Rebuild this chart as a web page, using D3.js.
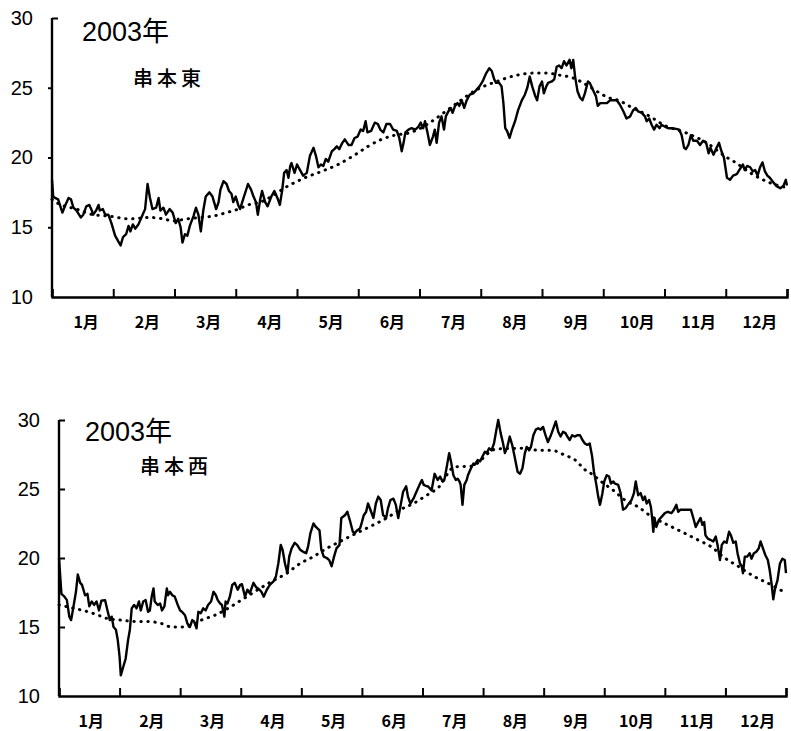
<!DOCTYPE html>
<html><head><meta charset="utf-8">
<script src="https://cdn.jsdelivr.net/npm/d3@7"></script>
<style>
html,body{margin:0;padding:0;background:#fff;}
svg{display:block;}
</style></head>
<body>
<script>
// ---------- data ----------
const monthLabels = ["1月","2月","3月","4月","5月","6月","7月","8月","9月","10月","11月","12月"];
const yTickValues = [10,15,20,25,30];
const yearTitle = "2003年";
const stationNames = ["串本東","串本西"];

// x = position in months (0 = 1 Jan, 12 = 31 Dec); daily water temperature (°C)
const eastPos = [0.00,0.02,0.05,0.10,0.17,0.21,0.27,0.31,0.35,0.40,0.47,0.51,0.56,0.61,0.65,0.67,0.72,0.76,0.78,0.83,0.87,0.92,0.97,1.03,1.08,1.12,1.16,1.21,1.25,1.28,1.32,1.36,1.41,1.46,1.52,1.56,1.60,1.64,1.70,1.74,1.77,1.82,1.86,1.92,1.97,2.02,2.06,2.10,2.13,2.17,2.21,2.25,2.31,2.35,2.39,2.43,2.47,2.51,2.57,2.62,2.68,2.72,2.75,2.80,2.85,2.89,2.93,2.96,3.00,3.04,3.07,3.12,3.20,3.25,3.29,3.33,3.36,3.40,3.43,3.48,3.52,3.58,3.63,3.68,3.72,3.76,3.79,3.83,3.86,3.89,3.91,3.96,4.00,4.05,4.10,4.16,4.21,4.27,4.31,4.35,4.39,4.43,4.47,4.51,4.57,4.61,4.65,4.69,4.74,4.78,4.84,4.89,4.94,4.99,5.04,5.08,5.12,5.15,5.21,5.27,5.32,5.36,5.41,5.46,5.52,5.57,5.63,5.67,5.71,5.74,5.77,5.82,5.87,5.93,5.98,6.02,6.06,6.09,6.13,6.17,6.22,6.25,6.28,6.32,6.36,6.40,6.43,6.47,6.51,6.54,6.58,6.62,6.65,6.69,6.73,6.77,6.82,6.88,6.93,6.98,7.03,7.09,7.14,7.18,7.22,7.25,7.30,7.34,7.37,7.40,7.43,7.47,7.51,7.56,7.61,7.67,7.72,7.76,7.80,7.84,7.89,7.92,7.96,8.00,8.03,8.07,8.10,8.16,8.20,8.24,8.28,8.32,8.36,8.40,8.45,8.48,8.51,8.54,8.58,8.62,8.66,8.70,8.75,8.78,8.83,8.88,8.91,8.95,8.99,9.06,9.11,9.16,9.22,9.27,9.33,9.38,9.44,9.49,9.53,9.57,9.63,9.68,9.71,9.75,9.79,9.83,9.87,9.92,9.95,10.01,10.06,10.12,10.19,10.24,10.28,10.32,10.35,10.39,10.43,10.47,10.53,10.58,10.63,10.68,10.72,10.75,10.80,10.85,10.89,10.93,10.97,11.02,11.07,11.12,11.18,11.22,11.28,11.31,11.35,11.40,11.44,11.48,11.52,11.56,11.60,11.64,11.68,11.72,11.78,11.83,11.89,11.94,11.98,12.00];
const eastTemp = [18.4,17.2,17.1,17.0,16.05,16.5,17.1,17.0,16.4,16.2,15.7,15.9,16.5,16.6,16.2,15.9,16.2,16.6,16.2,16.3,15.9,15.9,15.3,14.4,14.0,13.7,14.3,14.5,15.1,14.7,15.2,14.9,15.2,15.7,16.3,18.1,17.1,16.3,16.4,17.1,16.2,16.4,15.9,16.3,16.05,15.3,15.6,15.0,13.9,14.5,14.4,15.1,15.8,16.4,15.9,14.7,16.2,17.2,17.5,17.2,16.3,16.8,17.7,18.3,18.1,17.6,17.4,16.8,17.2,16.6,16.3,17.0,18.1,17.7,17.2,16.8,15.9,17.0,17.6,16.8,16.5,17.2,17.6,17.1,16.6,17.7,18.9,19.1,18.55,19.4,19.6,18.9,19.5,19.1,18.7,18.9,20.1,20.7,20.1,19.3,19.5,19.4,19.9,19.7,20.45,20.6,20.8,20.6,21.05,21.3,20.9,20.9,21.4,21.5,22.0,21.9,22.6,21.8,21.9,22.5,22.4,22.0,21.8,22.4,22.4,22.0,21.9,21.4,20.45,21.05,21.8,22.0,22.1,22.0,22.2,22.5,22.1,22.6,21.8,20.9,21.5,22.0,21.05,22.5,22.95,22.0,22.95,23.3,23.55,23.2,23.7,23.9,23.7,24.1,23.55,24.1,24.5,24.6,24.85,25.1,25.45,26.05,26.4,26.2,25.6,25.35,25.35,25.1,23.9,22.1,21.9,21.4,22.0,22.6,23.4,24.1,24.5,25.0,25.8,25.1,24.4,24.1,25.1,25.45,24.6,25.1,25.35,25.45,25.6,26.5,26.6,26.4,26.9,26.6,27.0,26.4,27.0,25.8,24.75,24.3,24.1,24.6,25.45,25.35,24.85,24.4,23.7,23.9,23.9,23.9,24.1,24.1,24.1,23.8,23.3,22.8,22.95,23.4,23.55,23.3,23.2,22.95,22.6,22.8,22.35,22.0,22.35,22.1,22.35,22.2,22.1,22.1,22.05,22.0,21.6,20.7,20.6,20.9,21.6,21.2,21.2,20.9,21.2,21.05,20.3,20.7,20.2,20.7,21.05,20.45,20.0,18.55,18.4,18.7,18.8,19.1,19.5,19.1,19.4,19.3,19.0,19.1,18.7,19.3,19.65,19.0,18.7,18.55,18.2,17.95,17.8,17.95,18.4,18.0];

// normal-year (climatological) curve, dotted
const eastNormPos  = [0.00,0.10,0.40,0.67,0.92,1.27,1.60,1.82,1.98,2.20,2.42,2.63,2.85,3.04,3.20,3.40,3.87,4.13,4.40,4.67,4.95,5.16,5.38,5.60,5.82,6.04,6.17,6.55,6.93,7.26,7.59,7.86,8.08,8.29,8.51,8.73,8.95,9.08,9.25,9.44,9.76,9.98,10.36,10.69,11.02,11.12,11.40,11.61,11.89,12.00];
const eastNormTemp = [17.0,16.7,16.3,15.9,15.8,15.6,15.7,15.6,15.45,15.6,15.7,15.8,16.05,16.3,16.6,16.8,18.0,18.55,19.0,19.5,20.2,20.8,21.3,21.6,21.75,22.15,22.5,23.7,24.85,25.45,25.9,26.05,26.05,25.9,25.7,25.2,24.6,24.3,24.1,23.65,22.95,22.35,21.75,21.05,20.0,19.75,18.9,18.4,17.95,17.85];

const westPos = [0.00,0.04,0.09,0.13,0.17,0.20,0.24,0.28,0.31,0.35,0.38,0.43,0.47,0.50,0.54,0.58,0.62,0.66,0.70,0.76,0.80,0.84,0.87,0.90,0.94,0.97,1.00,1.02,1.06,1.10,1.14,1.17,1.20,1.24,1.28,1.32,1.35,1.39,1.43,1.47,1.50,1.53,1.56,1.58,1.63,1.67,1.70,1.74,1.78,1.80,1.83,1.87,1.91,1.96,2.00,2.03,2.08,2.12,2.16,2.20,2.23,2.27,2.30,2.34,2.38,2.42,2.46,2.51,2.55,2.59,2.62,2.66,2.69,2.73,2.75,2.78,2.82,2.86,2.90,2.95,2.99,3.02,3.07,3.11,3.15,3.21,3.25,3.31,3.34,3.38,3.43,3.48,3.54,3.58,3.62,3.66,3.69,3.73,3.77,3.80,3.84,3.89,3.93,3.98,4.03,4.08,4.11,4.15,4.20,4.24,4.30,4.33,4.37,4.42,4.46,4.50,4.54,4.58,4.63,4.66,4.72,4.76,4.80,4.85,4.88,4.92,4.97,5.00,5.03,5.07,5.10,5.14,5.19,5.23,5.27,5.31,5.35,5.40,5.43,5.47,5.52,5.56,5.60,5.64,5.68,5.73,5.76,5.80,5.85,5.90,5.95,5.99,6.02,6.07,6.09,6.15,6.20,6.25,6.29,6.33,6.36,6.40,6.44,6.47,6.51,6.55,6.58,6.61,6.63,6.66,6.69,6.73,6.75,6.80,6.84,6.86,6.91,6.95,6.99,7.03,7.06,7.10,7.14,7.18,7.22,7.25,7.29,7.33,7.36,7.40,7.44,7.48,7.52,7.57,7.61,7.65,7.69,7.72,7.76,7.79,7.83,7.87,7.91,7.95,7.99,8.03,8.07,8.12,8.16,8.20,8.24,8.28,8.32,8.36,8.39,8.43,8.47,8.51,8.56,8.60,8.64,8.68,8.72,8.76,8.80,8.83,8.87,8.90,8.93,8.97,9.00,9.04,9.08,9.11,9.15,9.17,9.23,9.27,9.31,9.35,9.39,9.45,9.49,9.52,9.56,9.60,9.64,9.67,9.70,9.74,9.77,9.79,9.81,9.83,9.86,9.90,9.95,10.00,10.05,10.11,10.15,10.19,10.22,10.26,10.32,10.37,10.43,10.47,10.51,10.55,10.59,10.62,10.65,10.67,10.71,10.76,10.80,10.84,10.87,10.91,10.94,10.98,11.02,11.06,11.09,11.13,11.17,11.20,11.24,11.27,11.29,11.32,11.36,11.40,11.43,11.47,11.51,11.55,11.58,11.62,11.66,11.70,11.73,11.76,11.79,11.82,11.86,11.90,11.94,11.98,12.00];
const westTemp = [20.0,17.4,17.2,16.95,15.75,15.5,16.5,17.55,18.8,18.2,18.05,17.3,17.4,16.5,16.85,16.6,16.85,16.2,16.9,16.95,16.2,15.5,15.75,15.0,14.8,14.05,12.85,11.5,12.1,12.7,14.05,14.8,16.35,16.6,16.35,16.85,16.2,16.85,16.95,16.1,16.2,17.2,17.8,16.85,16.6,16.7,16.2,16.5,17.8,17.3,17.55,17.3,17.2,16.6,16.2,16.1,15.85,15.25,15.0,15.5,15.4,14.9,16.1,16.0,16.35,16.2,16.6,16.85,17.55,17.3,16.95,16.7,16.6,15.75,16.85,16.7,17.2,18.05,18.2,17.7,18.05,18.1,17.2,17.7,17.45,18.2,17.9,17.7,17.55,17.2,17.7,18.05,18.3,18.65,19.6,20.95,20.6,19.6,18.9,20.1,20.7,21.1,20.95,20.6,20.45,20.35,20.8,21.8,22.5,22.25,22.0,20.6,20.1,20.0,19.85,19.4,20.1,20.7,20.95,22.9,23.1,23.35,22.75,21.9,21.8,22.0,22.15,22.6,23.1,23.35,23.95,23.5,22.9,23.95,24.45,24.2,23.1,22.9,23.6,24.2,24.3,23.85,22.9,23.85,24.8,25.2,24.45,23.95,24.3,24.8,25.3,25.65,25.3,25.2,25.2,24.9,26.1,25.65,25.9,25.55,25.65,26.6,27.6,27.0,26.0,25.65,25.75,25.55,25.3,23.85,25.3,25.65,26.0,26.5,26.85,26.75,27.1,27.0,27.35,27.7,27.6,27.95,27.8,28.3,29.3,30.0,29.05,28.3,27.6,28.05,28.8,28.2,27.35,26.25,26.1,26.5,27.6,28.05,27.8,28.05,28.9,29.3,29.4,29.3,29.5,28.9,28.4,28.9,29.4,29.9,29.15,28.8,29.15,29.05,28.8,28.55,28.9,28.8,28.9,28.9,28.55,28.3,28.2,28.3,27.35,26.25,25.3,24.45,23.85,24.7,25.55,26.0,25.9,25.4,25.55,25.4,25.3,24.7,23.5,23.6,23.85,24.2,24.7,25.55,24.55,24.7,24.2,24.45,23.95,24.2,23.7,22.9,21.9,22.9,22.25,22.75,23.0,23.25,23.35,23.25,23.5,23.85,23.35,23.5,23.5,23.5,23.5,22.9,22.25,22.6,22.9,22.4,22.6,21.65,21.4,21.3,21.2,21.55,20.95,19.85,20.95,21.2,21.1,21.9,21.65,21.1,21.2,20.35,19.6,19.4,18.9,20.1,20.1,20.35,19.95,20.35,20.45,20.7,21.2,20.7,20.2,19.85,19.15,18.2,17.0,17.8,18.4,19.6,19.95,19.85,18.9];

const westNormPos  = [0.00,0.30,0.48,0.65,0.81,1.03,1.25,1.47,1.69,1.86,2.02,2.19,2.35,2.57,2.79,3.01,3.51,3.76,3.98,4.20,4.42,4.64,4.91,5.19,5.41,5.63,5.85,6.07,6.26,6.53,6.80,7.22,7.71,7.91,8.13,8.35,8.52,8.68,8.79,8.96,9.15,9.34,9.56,9.78,10.00,10.28,10.55,10.77,10.99,11.21,11.48,11.76,12.00];
const westNormTemp = [16.6,16.3,16.1,15.85,15.6,15.5,15.4,15.4,15.25,15.0,15.0,15.1,15.5,15.85,16.35,16.95,18.3,18.9,19.6,20.1,20.7,21.2,21.8,22.4,22.9,23.5,23.95,24.55,25.1,26.6,26.65,27.9,27.95,27.8,27.8,27.45,27.1,26.4,26.1,25.5,24.9,24.2,23.7,23.0,22.5,21.9,21.3,20.8,20.0,19.4,18.65,18.05,17.45];

// ---------- layout ----------
const W = 791, H = 731;
const svg = d3.select("body").append("svg").attr("width", W).attr("height", H);
svg.append("rect").attr("width", W).attr("height", H).attr("fill", "#fff");

const panels = [
  { name: stationNames[0], pos: eastPos, temp: eastTemp, nPos: eastNormPos, nTemp: eastNormTemp,
    x0: 52, x1: 787, yTop: 18, yBot: 297, tickDir: 1, labelShift: 3,
    titleX: 82, titleY: 41, nameX: 133, nameY: 86 },
  { name: stationNames[1], pos: westPos, temp: westTemp, nPos: westNormPos, nTemp: westNormTemp,
    x0: 59, x1: 786, yTop: 420, yBot: 696, tickDir: -1, labelShift: 1.5,
    titleX: 85, titleY: 441, nameX: 140, nameY: 474 }
];

const numFont = "'Liberation Sans', Arial, sans-serif";
const jpFont = "'Noto Sans CJK JP', 'Noto Sans', sans-serif";

panels.forEach(p => {
  const x = d3.scaleLinear().domain([0, 12]).range([p.x0, p.x1]);
  const y = d3.scaleLinear().domain([10, 30]).range([p.yBot, p.yTop]);
  const g = svg.append("g");

  // x axis with inward ticks at month boundaries
  const xAxis = g.append("g").attr("transform", `translate(0,${p.yBot})`)
    .call(d3.axisBottom(x).tickValues(d3.range(0, 13)).tickSize(-8).tickFormat(""));
  xAxis.select(".domain").attr("stroke", "#000").attr("stroke-width", 2.4);
  xAxis.selectAll(".tick line").attr("stroke", "#000").attr("stroke-width", 2);

  // month labels, centred in each month
  const mAxis = g.append("g").attr("transform", `translate(${p.labelShift},${p.yBot})`)
    .call(d3.axisBottom(x).tickValues(d3.range(0.5, 12, 1)).tickSize(0)
      .tickFormat(v => monthLabels[Math.floor(v)]));
  mAxis.select(".domain").remove();
  mAxis.selectAll(".tick text")
    .attr("y", 31).attr("dy", 0)
    .attr("font-family", jpFont).attr("font-weight", 700).attr("font-size", 16).attr("fill", "#000");

  // y axis
  const yAxisGen = d3.axisLeft(y).tickValues(yTickValues)
    .tickSize(p.tickDir > 0 ? 4 : -6).tickPadding(p.tickDir > 0 ? 15 : 19);
  const yAxis = g.append("g").attr("transform", `translate(${p.x0},0)`).call(yAxisGen);
  yAxis.select(".domain").attr("stroke", "#000").attr("stroke-width", 2.4).attr("d", `M0,${p.yTop}V${p.yBot}`);
  yAxis.selectAll(".tick line").attr("stroke", "#000").attr("stroke-width", 2);
  yAxis.selectAll(".tick text").attr("font-family", numFont).attr("font-size", 20).attr("fill", "#000");
  if (p.tickDir > 0) {
    // small cap at the top of the axis pointing inward
    yAxis.selectAll(".tick").filter(d => d === 30).select("line").attr("x2", 6);
  }
  yAxis.selectAll(".tick").filter(d => d === 10).select("line").remove();

  // normal-year dotted curve
  const norm = d3.zip(p.nPos, p.nTemp);
  g.append("path").datum(norm)
    .attr("d", d3.line().x(d => x(d[0])).y(d => y(d[1])).curve(d3.curveMonotoneX))
    .attr("fill", "none").attr("stroke", "#000").attr("stroke-width", 3)
    .attr("stroke-linecap", "round").attr("stroke-dasharray", "0.4 6.6");

  // daily observations, solid
  const obs = d3.zip(p.pos, p.temp);
  g.append("path").datum(obs)
    .attr("d", d3.line().x(d => x(d[0])).y(d => y(d[1])))
    .attr("fill", "none").attr("stroke", "#000").attr("stroke-width", 2.4)
    .attr("stroke-linejoin", "round");

  // titles
  g.append("text").attr("x", p.titleX).attr("y", p.titleY)
    .attr("font-family", numFont + ", " + jpFont).attr("font-size", 27).attr("fill", "#000")
    .text(yearTitle);
  g.append("text").attr("x", p.nameX).attr("y", p.nameY)
    .attr("font-family", jpFont).attr("font-weight", 500).attr("font-size", 20)
    .attr("letter-spacing", 4).attr("fill", "#000")
    .text(p.name);
});
</script>
</body></html>
